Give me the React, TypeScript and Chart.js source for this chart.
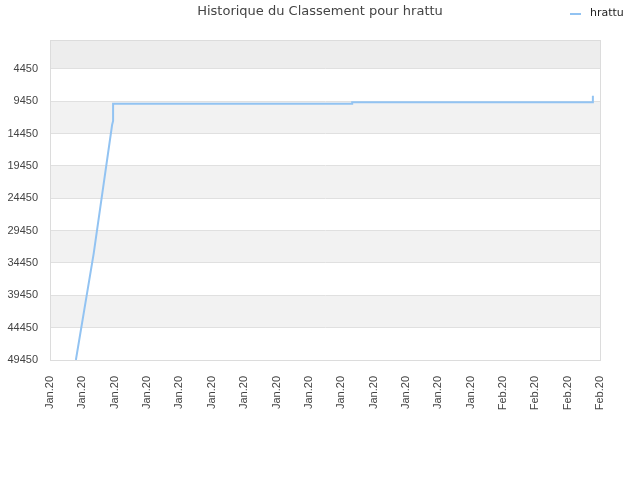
import { useEffect, useRef } from "react";
import { Chart, registerables } from "chart.js";

Chart.register(...registerables);

// x labels, one per tick (index 0..17)
const xLabels = [
  "Jan.20", "Jan.20", "Jan.20", "Jan.20", "Jan.20", "Jan.20", "Jan.20",
  "Jan.20", "Jan.20", "Jan.20", "Jan.20", "Jan.20", "Jan.20", "Jan.20",
  "Feb.20", "Feb.20", "Feb.20", "Feb.20",
];

const yTicks = [4450, 9450, 14450, 19450, 24450, 29450, 34450, 39450, 44450, 49450];

// position along the label index axis, and rank
const pointX = [0.8, 1.35, 1.92, 1.95, 1.95, 9.34, 9.34, 16.78, 16.78];
const rankY = [49450, 33000, 13100, 12500, 9850, 9850, 9620, 9620, 8620];

const LINE_COLOR = "#92c3f2";

const decorPlugin = {
  id: "decor",
  beforeDraw(chart: any) {
    const { ctx, chartArea } = chart;
    const y = chart.scales.y;
    ctx.save();
    // top partial band
    ctx.fillStyle = "#ededed";
    const firstY = y.getPixelForValue(yTicks[0]);
    ctx.fillRect(chartArea.left, chartArea.top, chartArea.right - chartArea.left, firstY - chartArea.top);
    for (let i = 0; i < yTicks.length - 1; i++) {
      if (i % 2 === 1) {
        const a = y.getPixelForValue(yTicks[i]);
        const b = y.getPixelForValue(yTicks[i + 1]);
        ctx.fillStyle = "#f2f2f2";
        ctx.fillRect(chartArea.left, a, chartArea.right - chartArea.left, b - a);
      }
    }
    ctx.restore();
  },
  afterDraw(chart: any) {
    const { ctx, chartArea, width } = chart;
    ctx.save();
    ctx.strokeStyle = "#dcdcdc";
    ctx.lineWidth = 1;
    ctx.strokeRect(
      Math.round(chartArea.left) + 0.5,
      Math.round(chartArea.top) + 0.5,
      Math.round(chartArea.right - chartArea.left),
      Math.round(chartArea.bottom - chartArea.top)
    );
    // title
    ctx.fillStyle = "#444";
    ctx.font = "13px 'DejaVu Sans'";
    ctx.textAlign = "center";
    ctx.textBaseline = "middle";
    ctx.fillText("Historique du Classement pour hrattu", width / 2, 12);
    // legend
    ctx.strokeStyle = LINE_COLOR;
    ctx.lineWidth = 2;
    ctx.beginPath();
    ctx.moveTo(570, 14);
    ctx.lineTo(581, 14);
    ctx.stroke();
    ctx.fillStyle = "#222";
    ctx.font = "11px 'DejaVu Sans'";
    ctx.textAlign = "left";
    ctx.fillText("hrattu", 590, 13);
    ctx.restore();
  },
};

export default function App() {
  const canvasRef = useRef<HTMLCanvasElement>(null);

  useEffect(() => {
    if (!canvasRef.current) return;
    const chart = new Chart(canvasRef.current, {
      type: "line",
      data: {
        datasets: [
          {
            label: "hrattu",
            data: pointX.map((x, i) => ({ x, y: rankY[i] })),
            borderColor: LINE_COLOR,
            borderWidth: 2,
            pointRadius: 0,
            tension: 0,
            fill: false,
          },
        ],
      },
      options: {
        animation: false,
        responsive: false,
        layout: { padding: { top: 40, right: 40, left: 0, bottom: 0 } },
        plugins: {
          legend: { display: false },
          title: { display: false },
          tooltip: { enabled: false },
        },
        scales: {
          x: {
            type: "linear",
            min: 0,
            max: 17,
            afterBuildTicks: (scale: any) => {
              scale.ticks = xLabels.map((_, i) => ({ value: i }));
            },
            afterFit: (scale: any) => {
              scale.height = 120;
            },
            grid: { display: false },
            border: { display: true, color: "#dcdcdc" },
            ticks: {
              autoSkip: false,
              minRotation: 90,
              maxRotation: 90,
              padding: 8,
              color: "#444",
              font: { family: "'Liberation Sans'", size: 11 },
              callback: (v: any) => xLabels[Number(v)] ?? "",
            },
          },
          y: {
            reverse: true,
            min: 0,
            max: 49450,
            afterBuildTicks: (scale: any) => {
              scale.ticks = yTicks.map((v) => ({ value: v }));
            },
            afterFit: (scale: any) => {
              scale.width = 50;
            },
            grid: { color: "#e0e0e0", drawTicks: false },
            border: { display: true, color: "#dcdcdc" },
            ticks: {
              padding: 12,
              color: "#444",
              font: { family: "'Liberation Sans'", size: 11 },
              callback: (v: any) => String(v),
            },
          },
        },
      },
      plugins: [decorPlugin],
    });
    return () => chart.destroy();
  }, []);

  return (
    <div style={{ position: "fixed", left: 0, top: 0, width: 640, height: 480, background: "#fff" }}>
      <canvas ref={canvasRef} width={640} height={480} style={{ width: 640, height: 480 }} />
    </div>
  );
}
